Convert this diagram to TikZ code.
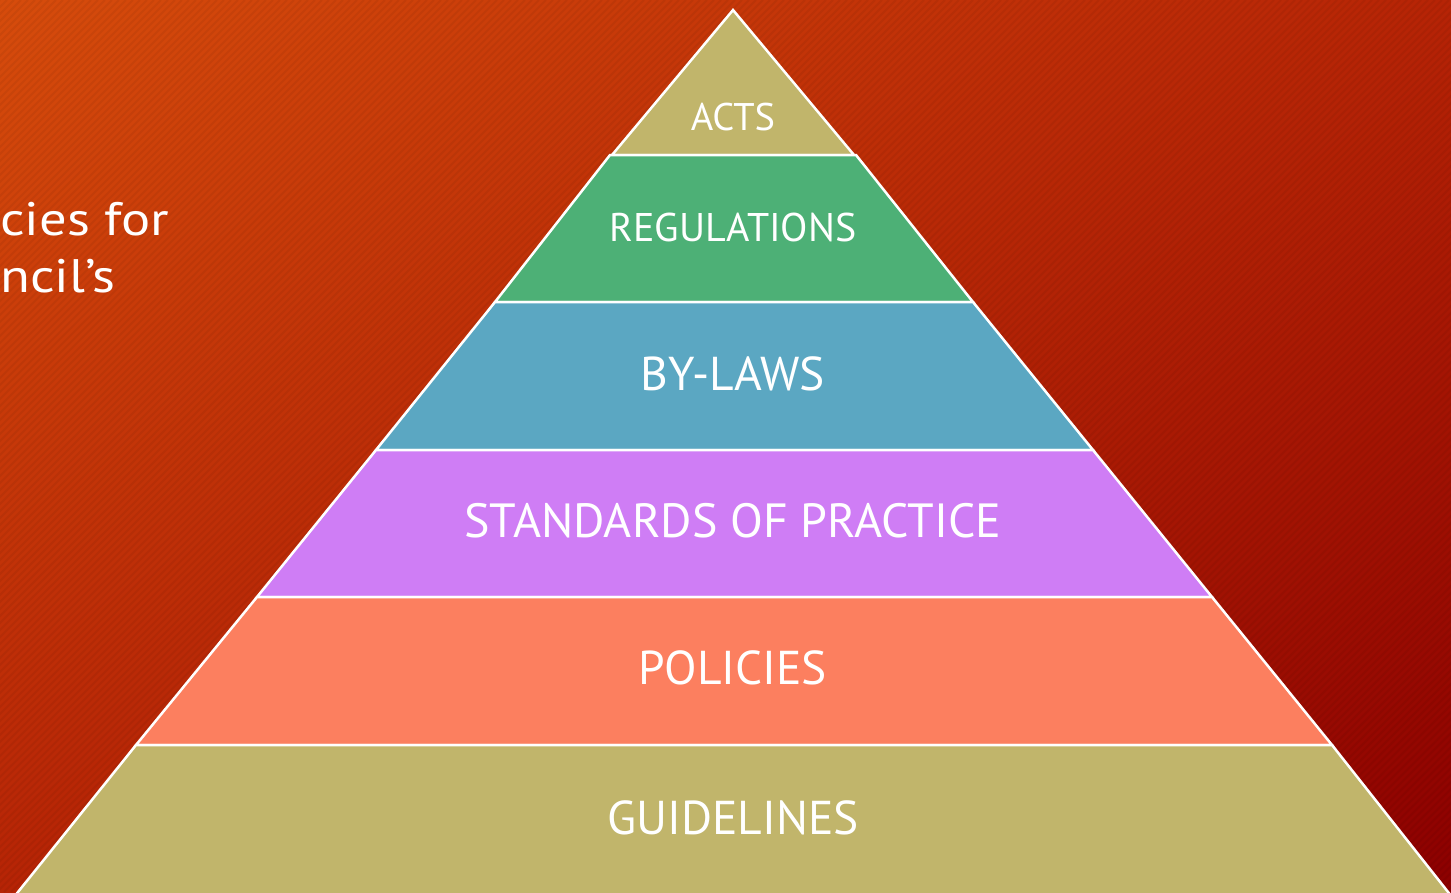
\documentclass[tikz,border=0pt]{standalone}
\usepackage{fontspec}
\setmainfont{PT Sans}
\usepackage{tikz}
\usetikzlibrary{positioning, shadings}

\definecolor{bgorange}{RGB}{214,76,12}
\definecolor{bgmid}{RGB}{182,36,6}
\definecolor{bgdark}{RGB}{140,0,0}
\definecolor{tan}{RGB}{193,181,107}
\definecolor{green}{RGB}{77,176,118}
\definecolor{blue}{RGB}{91,167,194}
\definecolor{purple}{RGB}{207,125,245}
\definecolor{salmon}{RGB}{252,127,95}

\tikzset{
  layer/.style={draw=white, line width=2.5pt, line join=miter},
  lbl/.style={text=white, inner sep=0pt},
  side/.style={text=white, inner sep=0pt, anchor=base west, font=\fontsize{47}{56}\selectfont}
}

\begin{document}
\begin{tikzpicture}[x=1pt, y=-1pt]
    \useasboundingbox (0,0) rectangle (1451,892);
    % Background
    \shade[upper left=bgorange, upper right=bgmid, lower left=bgmid, lower right=bgdark] (0,0) rectangle (1451,892);
    \begin{scope}
        \clip (0,0) rectangle (1451,892);
        \foreach \k in {0,7,...,2380} \draw[black, opacity=0.05, line width=2pt] (\k,0) -- (\k-892,892);
    \end{scope}

    % Left text (cut off)
    \node[side] (line1) at (0,235) {\scalebox{1.16}[1]{cies for}};
    \node[side] (line2) at (0,292) {\scalebox{1.16}[1]{ncil’s}};

    % Pyramid layers
    \filldraw[layer, fill=tan] (733,10) -- (612,155) -- (854,155) -- cycle;
    \filldraw[layer, fill=green] (610,155) -- (856,155) -- (973,302) -- (495,302) -- cycle;
    \filldraw[layer, fill=blue] (495,302) -- (973,302) -- (1093,450) -- (376,450) -- cycle;
    \filldraw[layer, fill=purple] (376,450) -- (1093,450) -- (1212,597) -- (257,597) -- cycle;
    \filldraw[layer, fill=salmon] (257,597) -- (1212,597) -- (1332,745) -- (136,745) -- cycle;
    \filldraw[layer, fill=tan] (136,745) -- (1332,745) -- (1452,897) -- (14,897) -- cycle;

    % Labels
    \node[lbl, font=\fontsize{38.5}{46}\selectfont] (acts) at (733,117) {ACTS};
    \node[lbl, font=\fontsize{40}{48}\selectfont] (regs) at (733,227) {REGULATIONS};
    \node[lbl, font=\fontsize{47.5}{56}\selectfont] (bylaws) at (733,374) {BY-LAWS};
    \node[lbl, font=\fontsize{48}{56}\selectfont] (stds) at (733,521) {STANDARDS OF PRACTICE};
    \node[lbl, font=\fontsize{47.5}{56}\selectfont] (pols) at (733,668) {POLICIES};
    \node[lbl, font=\fontsize{47.5}{56}\selectfont] (guide) at (733,818) {GUIDELINES};
\end{tikzpicture}
\end{document}
